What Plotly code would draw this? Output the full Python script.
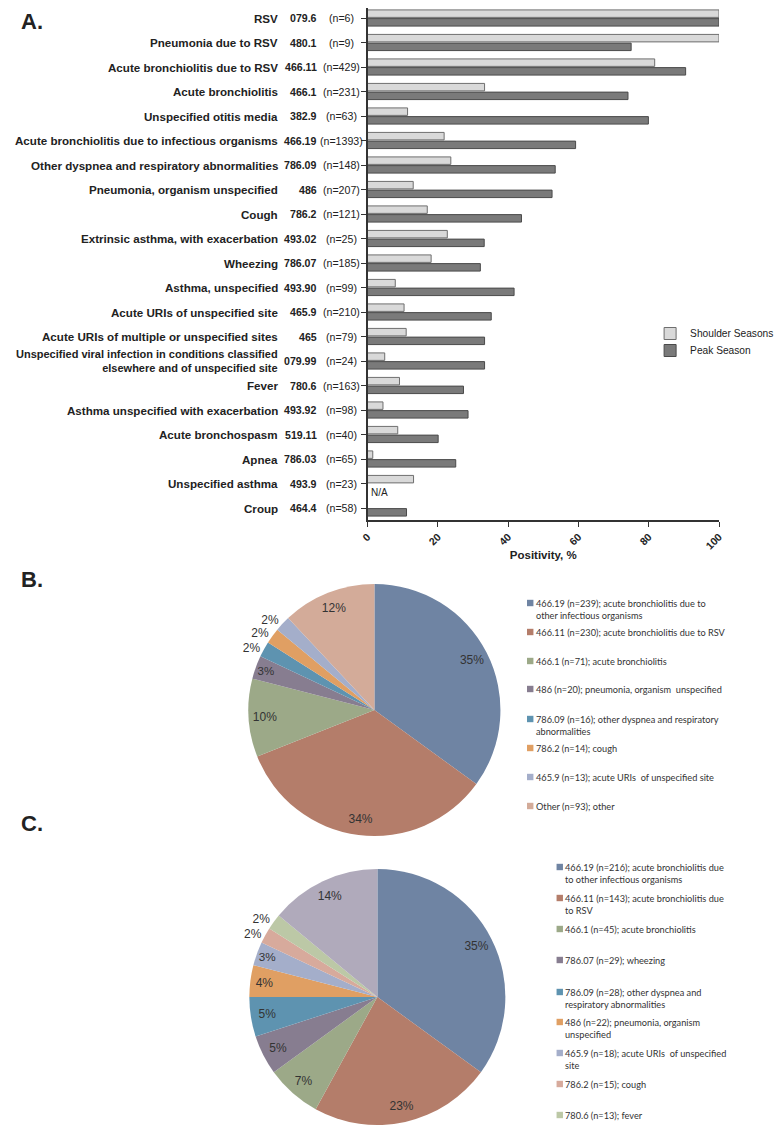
import plotly.graph_objects as go

W, H = 782, 1126
OFF = 8  # the page body offsets the figure by 8px; coordinates below are screen pixels

# ---------------- Panel A data ----------------
conditions = [
    "RSV", "Pneumonia due to RSV", "Acute bronchiolitis due to RSV", "Acute bronchiolitis",
    "Unspecified otitis media", "Acute bronchiolitis due to infectious organisms",
    "Other dyspnea and respiratory abnormalities", "Pneumonia, organism unspecified", "Cough",
    "Extrinsic asthma, with exacerbation", "Wheezing", "Asthma, unspecified",
    "Acute URIs of unspecified site", "Acute URIs of multiple or unspecified sites",
    "Unspecified viral infection in conditions classified<br>elsewhere and of unspecified site",
    "Fever", "Asthma unspecified with exacerbation", "Acute bronchospasm", "Apnea",
    "Unspecified asthma", "Croup",
]
icd_codes = ["079.6", "480.1", "466.11", "466.1", "382.9", "466.19", "786.09", "486", "786.2",
             "493.02", "786.07", "493.90", "465.9", "465", "079.99", "780.6", "493.92", "519.11",
             "786.03", "493.9", "464.4"]
n_counts = [6, 9, 429, 231, 63, 1393, 148, 207, 121, 25, 185, 99, 210, 79, 24, 163, 98, 40, 65, 23, 58]
shoulder = [100, 100, 81.7, 33.3, 11.4, 21.8, 23.7, 13.0, 17.0, 22.7, 18.1, 7.9, 10.4, 11.0, 4.9,
            9.1, 4.4, 8.6, 1.5, 13.1, None]
peak = [100, 75.0, 90.5, 74.1, 79.9, 59.2, 53.4, 52.5, 43.8, 33.2, 32.1, 41.7, 35.2, 33.3, 33.3,
        27.3, 28.6, 20.1, 25.1, None, 11.1]
x_ticks = [0, 20, 40, 60, 80, 100]

# ---------------- Panel B data ----------------
pie_b_labels = [
    "466.19 (n=239); acute bronchiolitis due to<br>other infectious organisms",
    "466.11 (n=230); acute bronchiolitis due to RSV",
    "466.1 (n=71); acute bronchiolitis",
    "486 (n=20); pneumonia, organism  unspecified",
    "786.09 (n=16); other dyspnea and respiratory<br>abnormalities",
    "786.2 (n=14); cough",
    "465.9 (n=13); acute URIs  of unspecified site",
    "Other (n=93); other",
]
pie_b_share = [35, 34, 10, 3, 2, 2, 2, 12]
pie_b_colors = ["#6F84A3", "#B47D6A", "#9CA988", "#877D90", "#5E93B0", "#E09F63", "#A4AECA", "#D3AB99"]

# ---------------- Panel C data ----------------
pie_c_labels = [
    "466.19 (n=216); acute bronchiolitis due<br>to other infectious organisms",
    "466.11 (n=143); acute bronchiolitis due<br>to RSV",
    "466.1 (n=45); acute bronchiolitis",
    "786.07 (n=29); wheezing",
    "786.09 (n=28); other dyspnea and<br>respiratory abnormalities",
    "486 (n=22); pneumonia, organism<br>unspecified",
    "465.9 (n=18); acute URIs  of unspecified<br>site",
    "786.2 (n=15); cough",
    "780.6 (n=13); fever",
    "Other",
]
pie_c_share = [35, 23, 7, 5, 5, 4, 3, 2, 2, 14]
pie_c_colors = ["#6F84A3", "#B47D6A", "#9CA988", "#877D90", "#5E93B0", "#E09F63", "#A4AECA",
                "#D7AA9C", "#BCC8A6", "#B0AABB"]
pie_c_legend_count = 9  # "Other" has no legend entry in the source figure


def px(x):
    return min(max((x - OFF) / W, 0), 1)


def py(y):
    return min(max(1 - (y - OFF) / H, 0), 1)


FONT = "Liberation Sans"
TXT = "#222222"

fig = go.Figure()

# ---------- Panel A bars ----------
fig.add_trace(go.Bar(
    name="Shoulder Seasons", y=conditions, x=shoulder, orientation="h",
    marker=dict(color="#D9D9D9", line=dict(color="#6E6E6E", width=1)),
    xaxis="x", yaxis="y", legend="legend",
))
fig.add_trace(go.Bar(
    name="Peak Season", y=conditions, x=peak, orientation="h",
    marker=dict(color="#7A7A7A", line=dict(color="#4A4A4A", width=1)),
    xaxis="x", yaxis="y", legend="legend2",
))


# ---------- Pies ----------
def add_pie(shares, colors, cx, cy, r):
    dom = dict(x=[px(cx - r), px(cx + r)], y=[py(cy + r), py(cy - r)])
    text = [f"{v}%" for v in shares]
    outside = [v <= 2 for v in shares]
    clear = ["rgba(0,0,0,0)"] * len(shares)
    fig.add_trace(go.Pie(
        values=shares, sort=False, direction="clockwise", rotation=0,
        marker=dict(colors=colors, line=dict(width=0)),
        textinfo="none", showlegend=False, hoverinfo="skip", domain=dom,
    ))
    # inside labels, carried by a transparent ring so they sit near the rim
    fig.add_trace(go.Pie(
        values=shares, sort=False, direction="clockwise", rotation=0, hole=0.74,
        marker=dict(colors=clear, line=dict(width=0)),
        text=[t if not o else "" for t, o in zip(text, outside)], textinfo="text",
        textposition=["none" if o else "inside" for o in outside],
        insidetextorientation="horizontal",
        textfont=dict(family=FONT, size=12, color="#333333"),
        showlegend=False, hoverinfo="skip", domain=dom,
    ))
    # each outside label on its own transparent pie (no label collisions -> no leader lines)
    for i, o in enumerate(outside):
        if not o:
            continue
        fig.add_trace(go.Pie(
            values=shares, sort=False, direction="clockwise", rotation=0,
            marker=dict(colors=clear, line=dict(width=0)),
            text=[t if j == i else "" for j, t in enumerate(text)], textinfo="text",
            textposition=["outside" if j == i else "none" for j in range(len(shares))],
            textfont=dict(family=FONT, size=12, color="#333333"),
            showlegend=False, hoverinfo="skip", domain=dom,
        ))


add_pie(pie_b_share, pie_b_colors, 373, 710, 128)
add_pie(pie_c_share, pie_c_colors, 376, 997, 130)

annotations = []
shapes = []

# y labels for panel A
for name, code, n in zip(conditions, icd_codes, n_counts):
    name_size = 11.0 if "<br>" in name else 11.6
    annotations.append(dict(xref="paper", yref="y", x=px(277), y=name, xanchor="right",
                            yanchor="middle", align="right", showarrow=False,
                            text=f"<b>{name}</b>", font=dict(family=FONT, size=name_size, color=TXT)))
    annotations.append(dict(xref="paper", yref="y", x=px(317), y=name, xanchor="right",
                            yanchor="middle", showarrow=False,
                            text=f"<b>{code}</b>", font=dict(family=FONT, size=10.6, color=TXT)))
    annotations.append(dict(xref="paper", yref="y", x=px(340), y=name, xanchor="center",
                            yanchor="middle", showarrow=False,
                            text=f"(n={n})", font=dict(family=FONT, size=10.6, color=TXT)))

# N/A marker for missing peak value
for name, v in zip(conditions, peak):
    if v is None:
        annotations.append(dict(xref="x", yref="y", x=0.4, y=name, xanchor="left",
                                yanchor="middle", yshift=-9, showarrow=False, text="N/A",
                                font=dict(family=FONT, size=10, color=TXT)))

# panel letters
for letter, yy in [("A.", 22), ("B.", 579), ("C.", 823)]:
    annotations.append(dict(xref="paper", yref="paper", x=px(12), y=py(yy), xanchor="left",
                            yanchor="middle", showarrow=False, text=f"<b>{letter}</b>",
                            font=dict(family=FONT, size=22, color=TXT)))


# pie legends (manual)
def pie_legend(labels, colors, x_sq, x_txt, y_first_lines, count):
    for lab, col, y0 in list(zip(labels, colors, y_first_lines))[:count]:
        nlines = lab.count("<br>") + 1
        ymid = y0 + (nlines - 1) * 6.1
        shapes.append(dict(type="rect", xref="paper", yref="paper",
                           x0=px(x_sq), x1=px(x_sq + 6.5), y0=py(y0 + 3.2), y1=py(y0 - 3.2),
                           fillcolor=col, line=dict(width=0)))
        annotations.append(dict(xref="paper", yref="paper", x=px(x_txt), y=py(ymid),
                                xanchor="left", yanchor="middle", align="left", showarrow=False,
                                text=lab, font=dict(family="Lato", size=9.2, color="#333333")))


pie_legend(pie_b_labels, pie_b_colors, 528, 535, [603, 632, 661, 689, 719, 748, 777, 806], 8)
pie_legend(pie_c_labels, pie_c_colors, 558, 565, [867, 898, 929, 960, 992, 1022, 1053, 1084, 1115],
           pie_c_legend_count)

# axis top cannot go above the figure edge; keep row centres where they are in the source
row_px = 24.5
top_px, first_row_px, last_row_px, bottom_px = OFF, 18, 508, 520
y_range = [len(conditions) - 1 + (bottom_px - last_row_px) / row_px,
           -(first_row_px - top_px) / row_px]

legend_style = dict(xanchor="left", yanchor="top", bgcolor="rgba(0,0,0,0)",
                    font=dict(family=FONT, size=10.2, color=TXT), itemclick=False)

fig.update_layout(
    width=W, height=H,
    margin=dict(l=0, r=0, t=0, b=0),
    paper_bgcolor="white", plot_bgcolor="white",
    barmode="group", bargap=0.29, bargroupgap=0.14,
    font=dict(family=FONT, color=TXT),
    xaxis=dict(domain=[px(366), px(723)], range=[0, 100], tickvals=x_ticks, tickangle=-45,
               ticks="outside", ticklen=5, tickwidth=1.3, tickcolor="#333",
               showline=True, linecolor="#333", linewidth=1.6, showgrid=False, zeroline=False,
               tickfont=dict(family=FONT, size=10.5, color=TXT, weight="bold"),
               title=dict(text="<b>Positivity, %</b>", font=dict(family=FONT, size=11.5, color=TXT),
                          standoff=0),
               anchor="y"),
    yaxis=dict(domain=[py(bottom_px), py(top_px)], type="category", categoryarray=conditions,
               range=y_range, showticklabels=False, ticks="outside", ticklen=5,
               tickwidth=1.3, tickcolor="#333", showline=True, linecolor="#333", linewidth=1.6,
               showgrid=False, zeroline=False, anchor="x"),
    legend=dict(x=px(653), y=py(319), **legend_style),
    legend2=dict(x=px(653), y=py(336), **legend_style),
    annotations=annotations,
    shapes=shapes,
)

fig.write_html("out.html")
